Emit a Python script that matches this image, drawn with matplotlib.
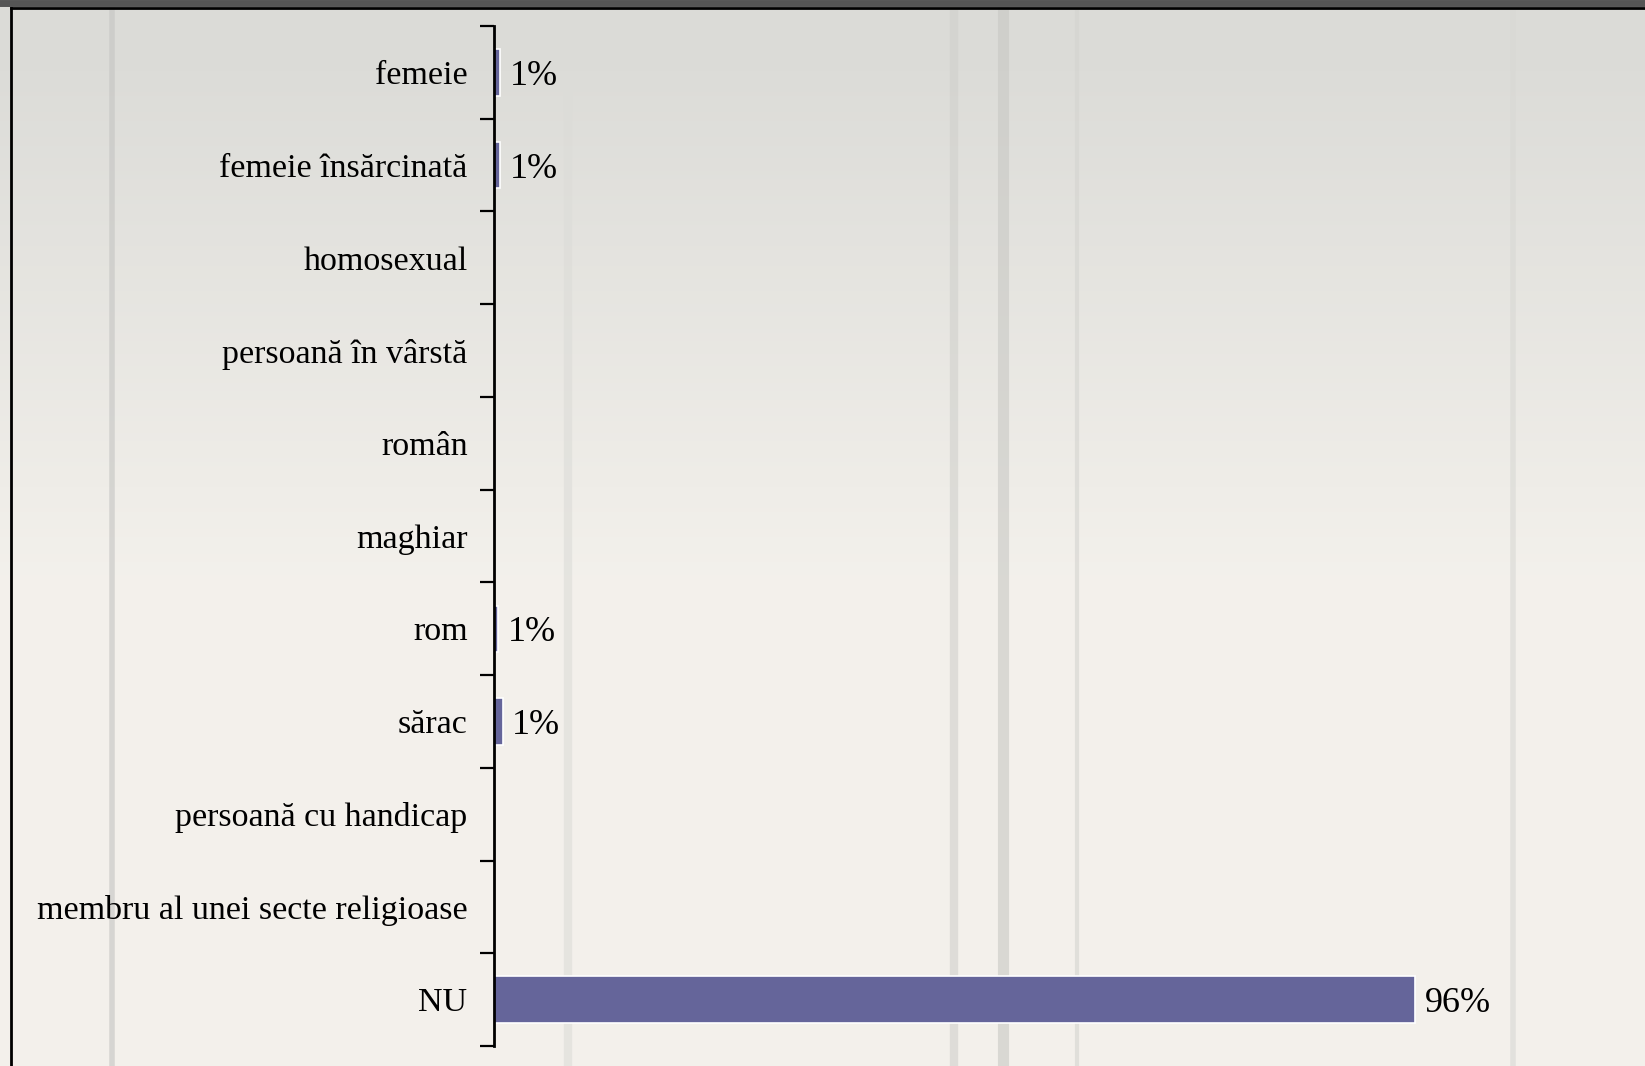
import numpy as np
import matplotlib
matplotlib.use("Agg")
import matplotlib.pyplot as plt
from matplotlib.lines import Line2D

plt.rcParams["font.family"] = ["Liberation Serif", "DejaVu Serif"]

categories = [
    "femeie",
    "femeie însărcinată",
    "homosexual",
    "persoană în vârstă",
    "român",
    "maghiar",
    "rom",
    "sărac",
    "persoană cu handicap",
    "membru al unei secte religioase",
    "NU",
]
values = [0.6, 0.6, 0, 0, 0, 0, 0.4, 0.9, 0, 0, 96]
value_labels = ["1%", "1%", "", "", "", "", "1%", "1%", "", "", "96%"]

W, H, DPI = 1645, 1066, 100
fig = plt.figure(figsize=(W / DPI, H / DPI), dpi=DPI)

# background: light grey slide with a darker band on top
bg = fig.add_axes([0, 0, 1, 1], zorder=-10)
grad = np.linspace(0, 1, 256)[:, None]
top_col = np.array([0.86, 0.86, 0.845])
bot_col = np.array([0.955, 0.945, 0.925])
img = top_col + (bot_col - top_col) * np.clip((grad - 0.05) / 0.5, 0, 1)[..., None]
img = np.repeat(img, 2, axis=1)
bg.imshow(img, aspect="auto", extent=[0, 1, 0, 1], origin="upper")
for xs, c, lw in [(0.068, "#c4c4c2", 4), (0.345, "#dcdcd8", 6), (0.58, "#d0d0cc", 6),
                  (0.61, "#c8c8c4", 8), (0.655, "#d4d4d0", 3), (0.92, "#d8d8d4", 4)]:
    bg.axvline(xs, color=c, lw=lw, alpha=0.6)
bg.set_xlim(0, 1)
bg.set_ylim(0, 1)
bg.axis("off")

# outer frame
fig.add_artist(Line2D([11 / W, 11 / W], [0, 1 - 8 / H], transform=fig.transFigure, color="black", lw=2))
fig.add_artist(Line2D([11 / W, 1], [1 - 8 / H, 1 - 8 / H], transform=fig.transFigure, color="black", lw=2))
fig.add_artist(Line2D([0, 1], [1 - 3 / H, 1 - 3 / H], transform=fig.transFigure, color="#555555", lw=5))

ax = fig.add_axes([494 / W, 20 / H, 1 - 494 / W, 1 - 46 / H])
ax.patch.set_alpha(0)

y = np.arange(len(categories))
bars = ax.barh(y, values, height=0.5, color="#65659a", edgecolor="white", linewidth=1.2)
ax.set_ylim(len(categories) - 0.5, -0.5)
ax.set_xlim(0, 120)

for b, lab in zip(bars, value_labels):
    if lab:
        ax.annotate(lab, (b.get_width(), b.get_y() + b.get_height() / 2),
                    xytext=(7, 0), textcoords="offset points",
                    va="center_baseline", ha="left", fontsize=26)

ax.set_yticks(np.arange(len(categories) + 1) - 0.5)
ax.set_yticklabels([])
ax.set_yticks(y, minor=True)
ax.set_yticklabels(categories, minor=True, fontsize=24.5, va="center_baseline")
ax.tick_params(axis="y", which="major", length=10, width=1.6, direction="out")
ax.tick_params(axis="y", which="minor", length=0, pad=19)
ax.set_xticks([])
for s in ["top", "right", "bottom"]:
    ax.spines[s].set_visible(False)
ax.spines["left"].set_linewidth(2)

fig.savefig("out.png", dpi=DPI)
